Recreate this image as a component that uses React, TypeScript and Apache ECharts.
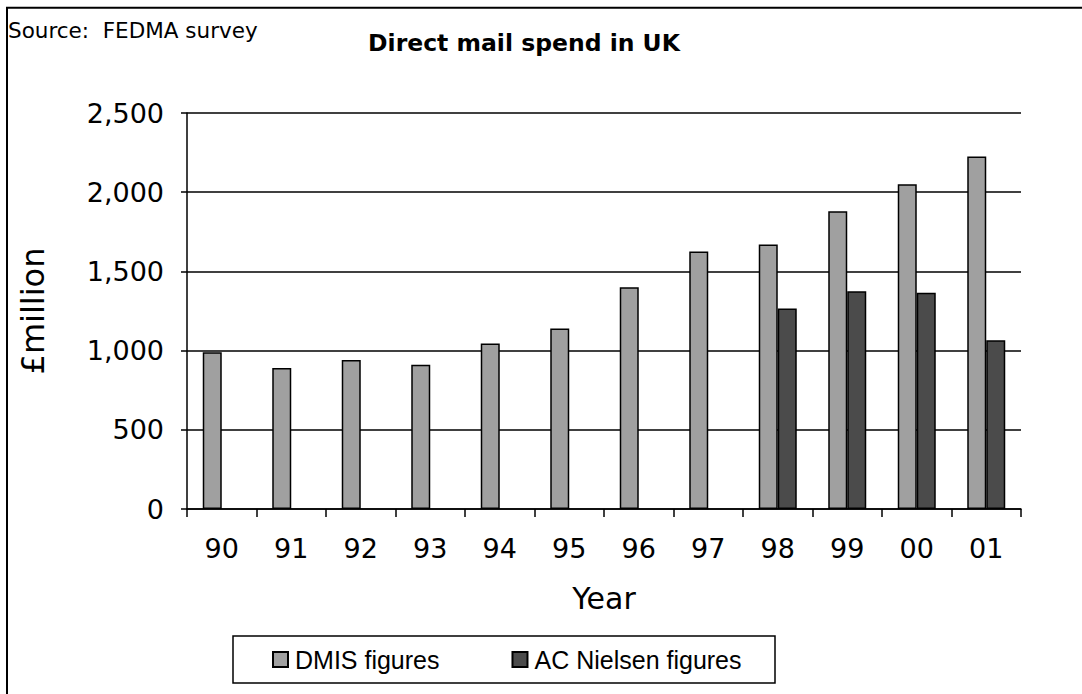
import React, { useEffect, useRef } from "react";
import * as echarts from "echarts";

const years = ["90", "91", "92", "93", "94", "95", "96", "97", "98", "99", "00", "01"];
const dmis = [990, 890, 940, 910, 1045, 1140, 1400, 1625, 1670, 1880, 2050, 2225];
const nielsen = [null, null, null, null, null, null, null, null, 1265, 1375, 1365, 1065];
const yTicks = { min: 0, max: 2500, interval: 500 };

const FONT = "'DejaVu Sans', Verdana, sans-serif";
const LEG_FONT = "'Liberation Sans', Arial, sans-serif";

export default function App() {
  const ref = useRef<HTMLDivElement>(null);
  useEffect(() => {
    if (!ref.current) return;
    const chart = echarts.init(ref.current, null, { renderer: "svg" });
    chart.setOption({
      animation: false,
      backgroundColor: "#ffffff",
      title: [
        {
          text: "Direct mail spend in UK",
          left: 524,
          top: 31,
          padding: 0,
          textAlign: "center",
          textStyle: { fontFamily: FONT, fontWeight: "bold", fontSize: 23.5, color: "#000" },
        },
        {
          text: "Source:  FEDMA survey",
          left: 8,
          top: 19,
          padding: 0,
          textStyle: { fontFamily: FONT, fontWeight: "normal", fontSize: 21.5, color: "#000" },
        },
      ],
      graphic: [
        {
          type: "polyline",
          shape: { points: [[7, 760], [7, 7.7], [1200, 7.7]] },
          style: { fill: "none", stroke: "#000", lineWidth: 2 },
          silent: true,
        },
        {
          type: "rect",
          shape: { x: 233, y: 636, width: 542, height: 47 },
          style: { fill: "#fff", stroke: "#000", lineWidth: 1.5 },
          silent: true,
          z: -1,
        },
      ],
      legend: {
        left: 272,
        top: 647,
        padding: 0,
        itemWidth: 15,
        itemHeight: 15,
        itemGap: 72,
        icon: "rect",
        textStyle: { fontFamily: LEG_FONT, fontSize: 25, color: "#000", padding: [0, 0, 0, 2] },
        data: ["DMIS figures", "AC Nielsen figures"],
      },
      grid: { left: 187, top: 113, width: 834, height: 396, containLabel: false },
      xAxis: {
        type: "category",
        data: years,
        name: "Year",
        nameLocation: "middle",
        nameGap: 74,
        nameTextStyle: { fontFamily: FONT, fontSize: 30, color: "#000" },
        axisLine: { lineStyle: { color: "#000", width: 1.5 } },
        axisTick: { show: true, interval: 0, length: 8, lineStyle: { color: "#000", width: 1.5 } },
        axisLabel: { fontFamily: FONT, fontSize: 27, color: "#000", margin: 26, interval: 0 },
      },
      yAxis: {
        type: "value",
        min: yTicks.min,
        max: yTicks.max,
        interval: yTicks.interval,
        name: "£million",
        nameLocation: "middle",
        nameGap: 138,
        nameTextStyle: { fontFamily: FONT, fontSize: 32, color: "#000" },
        axisLine: { show: true, lineStyle: { color: "#000", width: 1.5 } },
        axisTick: { show: true, length: 6, lineStyle: { color: "#000", width: 1.5 } },
        axisLabel: {
          fontFamily: FONT,
          fontSize: 27,
          color: "#000",
          margin: 23,
          formatter: (v: number) => v.toLocaleString("en-US"),
        },
        splitLine: { show: true, lineStyle: { color: "#000", width: 1.5 } },
      },
      series: [
        {
          name: "DMIS figures",
          type: "bar",
          data: dmis,
          barWidth: 19,
          barGap: "0%",
          itemStyle: { color: "#a0a0a0", borderColor: "#000", borderWidth: 1.5 },
        },
        {
          name: "AC Nielsen figures",
          type: "bar",
          data: nielsen,
          barWidth: 19,
          barGap: "0%",
          itemStyle: { color: "#4b4b4b", borderColor: "#000", borderWidth: 1.5 },
        },
      ],
    });
    return () => chart.dispose();
  }, []);
  return (
    <div
      ref={ref}
      style={{ position: "fixed", left: 0, top: 0, width: 1082, height: 694 }}
    />
  );
}
